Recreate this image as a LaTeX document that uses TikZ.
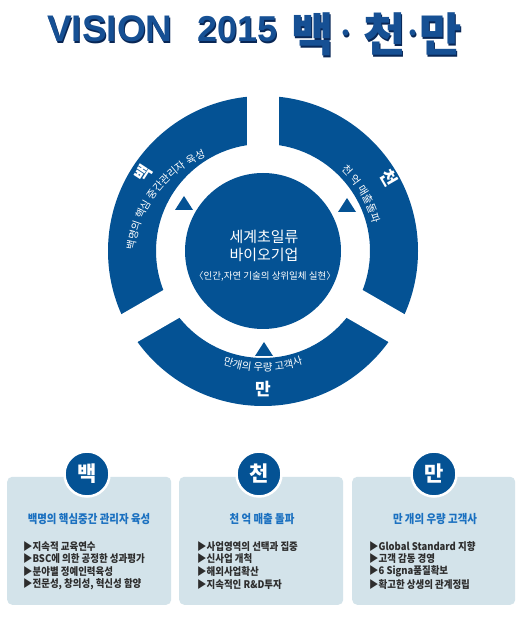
\documentclass[tikz,border=0pt]{standalone}
\usepackage{fontspec}
\setmainfont{Noto Sans CJK KR}
\newfontfamily\latf{Liberation Sans}
\usetikzlibrary{decorations.text}
\definecolor{ringblue}{RGB}{4,82,148}
\definecolor{boxfill}{RGB}{211,227,234}
\definecolor{titleblue}{RGB}{26,112,192}
\definecolor{bullettext}{RGB}{45,45,45}
\definecolor{headblue}{RGB}{22,80,148}
\definecolor{headshadow}{RGB}{8,38,85}
\begin{document}
\begin{tikzpicture}[x=1pt,y=1pt,
  bigchar/.style={text=white, font=\bfseries\fontsize{17}{20}\selectfont, inner sep=0},
  disktext/.style={text=white, inner sep=0},
  boxbg/.style={fill=boxfill, rounded corners=5pt, minimum height=128pt, inner sep=0, anchor=south west},
  boxhead/.style={circle, fill=ringblue, draw=white, line width=2.5pt, minimum size=45pt, inner sep=0, text=white, font=\bfseries\fontsize{21}{24}\selectfont},
  boxtitle/.style={text=titleblue, font=\bfseries\fontsize{12}{14}\selectfont, xscale=0.87, inner sep=0},
  bullet/.style={text=bullettext, font=\bfseries\fontsize{10.5}{12}\selectfont, xscale=0.9, anchor=west, inner sep=0},
  titlelat/.style={font=\latf\bfseries\fontsize{37}{40}\selectfont, anchor=base west, inner sep=0},
  titlekr/.style={font=\bfseries\fontsize{46}{50}\selectfont, anchor=base, inner sep=0},
  titledot/.style={font=\bfseries\fontsize{28}{30}\selectfont, anchor=base, inner sep=0},
  ringtext/.style={decorate, decoration={text along path, text align=center, text color=white, text={|\fontsize{10.5}{12}\selectfont|#1}}},
]
\useasboundingbox (0,0) rectangle (522,621);
\fill[white] (0,0) rectangle (522,621);
\coordinate (C) at (263,370);

% title: shadow then main
\begin{scope}[shift={(0.9,-1.3)}, text=headshadow]
\node[titlelat] (sV) at (47,579) {VISION};
\node[titlelat, font=\latf\bfseries\fontsize{36}{40}\selectfont] (s2) at (197,579) {2015};
\node[titlekr] (sB) at (313,569) {백};
\node[titledot] (sd1) at (346,577) {·};
\node[titlekr] (sC) at (385,569) {천};
\node[titledot] (sd2) at (413,577) {·};
\node[titlekr] (sM) at (441,569) {만};
\end{scope}
\begin{scope}[text=headblue]
\node[titlelat] (tV) at (47,579) {VISION};
\node[titlelat, font=\latf\bfseries\fontsize{36}{40}\selectfont] (t2) at (197,579) {2015};
\node[titlekr] (tB) at (313,569) {백};
\node[titledot] (td1) at (346,577) {·};
\node[titlekr] (tC) at (385,569) {천};
\node[titledot] (td2) at (413,577) {·};
\node[titlekr] (tM) at (441,569) {만};
\end{scope}

% ring
\fill[ringblue, even odd rule] (C) circle[radius=155] (C) circle[radius=107];
\draw[white, line width=32pt] (C) -- ([shift={(90:175)}]C);
\draw[white, line width=32pt] (C) -- ([shift={(210:175)}]C);
\draw[white, line width=32pt] (C) -- ([shift={(330:175)}]C);
\node[circle, fill=ringblue, minimum size=156pt, inner sep=0] (disk) at (C) {};

% triangles
\fill[ringblue] (175,411) -- (193,411) -- (184,425) -- cycle;
\fill[ringblue] (338,409) -- (356,409) -- (347,423) -- cycle;
\fill[ringblue] (255,265) -- (273,265) -- (264,279) -- cycle;

% ring texts
\path[ringtext={백명의 핵심 중간관리자 육성}]
  plot[domain=200:96, samples=90, variable=\t]
  ({263+(109+0.32*(\t-118))*cos(\t)}, {370+(109+0.32*(\t-118))*sin(\t)});
\path[ringtext={천 억 매출돌파}]
  plot[domain=70:-10, samples=60, variable=\t]
  ({263+113*cos(\t)}, {370+113*sin(\t)});
\path[ringtext={만개의 우량 고객사}]
  plot[domain=225:315, samples=60, variable=\t]
  ({263+120*cos(\t)}, {370+120*sin(\t)});

\node[bigchar, rotate=57] (bigB) at ([shift={(147:143)}]C) {백};
\node[bigchar, rotate=-60] (bigC) at ([shift={(30:145)}]C) {천};
\node[bigchar] (bigM) at (263,232) {만};

% disk texts
\node[disktext, font=\fontsize{15}{18}\selectfont] (d1) at (264,384) {세계초일류};
\node[disktext, font=\fontsize{15}{18}\selectfont] (d2) at (264,366) {바이오기업};
\node[disktext, font=\fontsize{9.5}{11}\selectfont] (d3) at (265,345) {〈인간,자연 기술의 상위일체 실현〉};

% boxes
\node[boxbg, minimum width=164pt] (box1) at (7,16) {};
\node[boxbg, minimum width=164pt] (box2) at (179,16) {};
\node[boxbg, minimum width=163pt] (box3) at (352,16) {};

\node[boxhead] (h1) at (87,147) {백};
\node[boxhead] (h2) at (259,147) {천};
\node[boxhead] (h3) at (434,147) {만};

\node[boxtitle] (bt1) at (89,102) {백명의 핵심중간 관리자 육성};
\node[boxtitle] (bt2) at (262,102) {천 억 매출 돌파};
\node[boxtitle] (bt3) at (435,102) {만 개의 우량 고객사};

\node[bullet] (a1) at (23,74.3) {▶지속적 교육연수};
\node[bullet] (a2) at (23,62) {▶BSC에 의한 공정한 성과평가};
\node[bullet] (a3) at (23,49.3) {▶분야별 정예인력육성};
\node[bullet] (a4) at (23,36.7) {▶전문성, 창의성, 혁신성 함양};

\node[bullet] (b1) at (197,74.3) {▶사업영역의 선택과 집중};
\node[bullet] (b2) at (197,62) {▶신사업 개척};
\node[bullet] (b3) at (197,49.3) {▶해외사업확산};
\node[bullet] (b4) at (197,36.7) {▶지속적인 R\&D투자};

\node[bullet] (c1) at (369,74.3) {▶Global Standard 지향};
\node[bullet] (c2) at (369,62) {▶고객 감동 경영};
\node[bullet] (c3) at (369,49.3) {▶6 Signa품질확보};
\node[bullet] (c4) at (369,36.7) {▶확고한 상생의 관계정립};
\end{tikzpicture}
\end{document}
